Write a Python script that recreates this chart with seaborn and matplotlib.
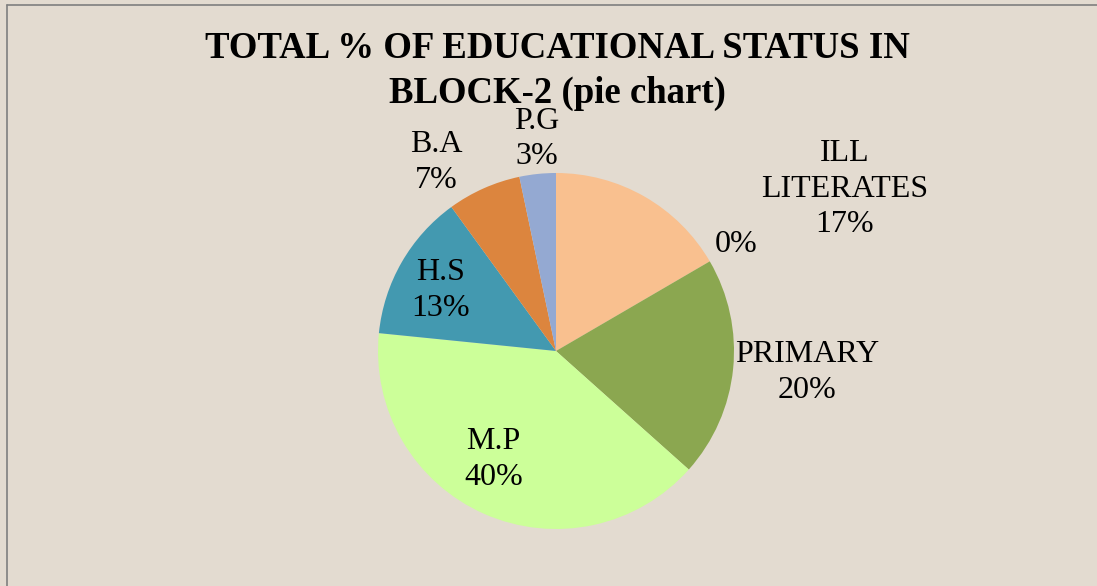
"""Pie chart: total % of educational status in Block-2."""
import matplotlib

matplotlib.use("Agg")
import matplotlib.pyplot as plt  # noqa: E402
import seaborn as sns  # noqa: E402
from matplotlib.lines import Line2D  # noqa: E402

sns.set_theme(style="white")
plt.rcParams["font.family"] = ["Liberation Serif", "DejaVu Serif"]

# data (clockwise from 12 o'clock)
categories = ["ILL\nLITERATES", "", "PRIMARY", "M.P", "H.S", "B.A", "P.G"]
shares = [16.6, 0.0, 20.0, 40.0, 13.4, 6.7, 3.3]
pct_labels = ["17%", "0%", "20%", "40%", "13%", "7%", "3%"]
colors = sns.color_palette(["#F9C08F", "#C0504D", "#8BA750", "#CCFF99",
                            "#4399B0", "#DC853E", "#94A9D2"])

# label positions relative to the pie centre, in radii
label_pos = [(1.62, 0.91), (1.01, 0.60), (1.41, -0.12), (-0.35, -0.61),
             (-0.65, 0.34), (-0.67, 1.06), (-0.11, 1.19)]

W, H = 1097, 586
CX, CY, R = 556, 351, 178  # pie centre and radius in pixels

bg = "#E3DBD0"
fig = plt.figure(figsize=(W / 100, H / 100), dpi=100, facecolor=bg)
ax = fig.add_axes([0, 0, 1, 1])
ax.set_facecolor(bg)

ax.pie(shares, colors=colors, startangle=90, counterclock=False, radius=1,
       wedgeprops=dict(linewidth=0))
ax.set_xlim(-CX / R, (W - CX) / R)
ax.set_ylim(-(H - CY) / R, CY / R)
ax.set_aspect("auto")
ax.axis("off")

for cat, pct, (lx, ly) in zip(categories, pct_labels, label_pos):
    txt = f"{cat}\n{pct}" if cat else pct
    ax.text(lx, ly, txt, ha="center", va="center", fontsize=23,
            linespacing=1.3, color="black")

fig.text(0.508, 1 - 71 / H, "TOTAL % OF EDUCATIONAL STATUS IN\nBLOCK-2 (pie chart)",
         ha="center", va="center", fontsize=26.5, fontweight="bold",
         linespacing=1.38, color="black")

# thin frame on the left and top
fig.add_artist(Line2D([7 / W, 7 / W], [0, 1 - 5 / H], transform=fig.transFigure,
                      color="#7f7f7f", lw=1.2))
fig.add_artist(Line2D([7 / W, 1], [1 - 5 / H, 1 - 5 / H], transform=fig.transFigure,
                      color="#7f7f7f", lw=1.2))

fig.savefig("out.png", dpi=100, facecolor=bg)
